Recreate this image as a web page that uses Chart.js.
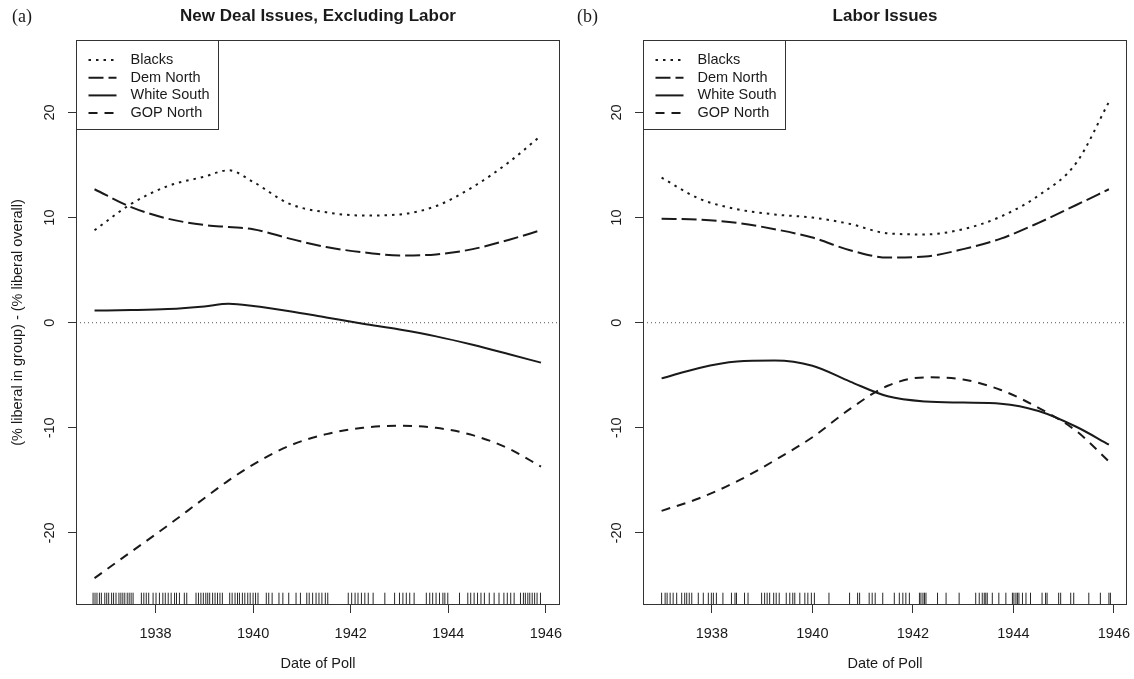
<!DOCTYPE html>
<html>
<head>
<meta charset="utf-8">
<script src="https://cdn.jsdelivr.net/npm/chart.js@4.4.1/dist/chart.umd.min.js"></script>
<style>
    html, body { margin: 0; padding: 0; background: #fff; }
    #wrap { position: relative; width: 1134px; height: 679px; }
    .panel { position: absolute; top: 0; width: 567px; height: 679px; }
</style>
</head>
<body>
<div id="wrap">
    <div class="panel" style="left:0"><canvas id="chartA" width="567" height="679"></canvas></div>
    <div class="panel" style="left:567px"><canvas id="chartB" width="567" height="679"></canvas></div>
</div>
<script>
const seriesNames = ["Blacks", "Dem North", "White South", "GOP North"];
const xTicks = [1938, 1940, 1942, 1944, 1946];
const yTicks = [-20, -10, 0, 10, 20];

// (a) New Deal issues, excluding labor
const datesA = [1936.75, 1937.5, 1938.25, 1939.0, 1939.5, 1940.0, 1940.75, 1941.5, 1942.25, 1943.0, 1943.75, 1944.5, 1945.25, 1945.9];
const blacksA = [8.8, 11.3, 13.0, 13.9, 14.5, 13.4, 11.3, 10.5, 10.2, 10.3, 11.1, 12.9, 15.3, 17.8];
const demNorthA = [12.7, 11.0, 9.9, 9.3, 9.1, 8.9, 8.0, 7.2, 6.7, 6.4, 6.5, 7.0, 7.9, 8.8];
const whiteSouthA = [1.15, 1.2, 1.3, 1.55, 1.8, 1.6, 1.1, 0.5, -0.1, -0.65, -1.3, -2.1, -3.0, -3.8];
const gopNorthA = [-24.3, -21.8, -19.3, -16.7, -15.0, -13.5, -11.7, -10.6, -10.0, -9.8, -10.0, -10.7, -12.0, -13.7];
const pollsA = [
    1936.72, 1936.76, 1936.80, 1936.85, 1936.89, 1936.96, 1937.00, 1937.04, 1937.10, 1937.14,
    1937.19, 1937.25, 1937.29, 1937.33, 1937.37, 1937.42, 1937.46, 1937.50, 1937.54,
    1937.71, 1937.76, 1937.81, 1937.86, 1937.95, 1938.01, 1938.08, 1938.15, 1938.20, 1938.26,
    1938.32, 1938.39, 1938.43, 1938.49, 1938.59, 1938.64,
    1938.83, 1938.88, 1938.93, 1938.98, 1939.03, 1939.07, 1939.11, 1939.17, 1939.22, 1939.27, 1939.32, 1939.37,
    1939.52, 1939.57, 1939.63, 1939.68, 1939.72, 1939.78, 1939.83, 1939.89, 1939.94, 1940.00, 1940.05, 1940.10,
    1940.27, 1940.32, 1940.39, 1940.53, 1940.61, 1940.73, 1940.88, 1940.97,
    1941.10, 1941.15, 1941.22, 1941.29, 1941.35, 1941.41, 1941.48, 1941.53,
    1941.95, 1942.02, 1942.09, 1942.15, 1942.22, 1942.29, 1942.36, 1942.46, 1942.70, 1942.90,
    1943.00, 1943.07, 1943.14, 1943.21, 1943.30,
    1943.55, 1943.62, 1943.68, 1943.75, 1943.82, 1943.89, 1943.93, 1943.99, 1944.23,
    1944.40, 1944.46, 1944.53, 1944.60, 1944.67, 1944.74, 1944.84, 1944.94,
    1945.04, 1945.14, 1945.21, 1945.28, 1945.35,
    1945.48, 1945.54, 1945.58, 1945.63, 1945.67, 1945.72, 1945.77, 1945.82, 1945.89
];

// (b) Labor issues
const datesB = [1937.0, 1937.75, 1938.5, 1939.25, 1940.0, 1940.75, 1941.5, 1942.25, 1943.0, 1943.75, 1944.5, 1945.25, 1945.9];
const blacksB = [13.8, 11.8, 10.8, 10.3, 10.0, 9.4, 8.5, 8.4, 8.9, 10.1, 12.1, 15.2, 21.0];
const demNorthB = [9.9, 9.8, 9.5, 8.9, 8.1, 6.9, 6.2, 6.3, 7.0, 8.0, 9.5, 11.2, 12.7];
const whiteSouthB = [-5.3, -4.3, -3.7, -3.6, -4.1, -5.6, -7.0, -7.5, -7.6, -7.7, -8.4, -9.9, -11.6];
const gopNorthB = [-17.9, -16.7, -15.1, -13.1, -10.9, -8.2, -6.0, -5.2, -5.4, -6.4, -8.1, -10.3, -13.2];
const pollsB = [
    1937.00, 1937.07, 1937.11, 1937.17, 1937.23, 1937.30, 1937.40, 1937.46, 1937.50, 1937.55, 1937.60,
    1937.73, 1937.83, 1937.93, 1937.99, 1938.03, 1938.09, 1938.22, 1938.39, 1938.46, 1938.49,
    1938.65, 1938.72, 1938.99, 1939.05, 1939.10, 1939.15, 1939.23, 1939.28, 1939.34,
    1939.48, 1939.55, 1939.61, 1939.65, 1939.75, 1939.85, 1939.91, 1939.98, 1940.04,
    1940.33, 1940.74, 1940.90, 1940.94, 1941.13, 1941.19, 1941.25, 1941.40,
    1941.63, 1941.73, 1941.80, 1941.86, 1941.93, 1942.13, 1942.16, 1942.20, 1942.23, 1942.26,
    1942.49, 1942.66, 1942.92, 1943.25, 1943.32, 1943.38, 1943.42, 1943.45, 1943.48, 1943.58,
    1943.71, 1943.85, 1943.98, 1944.01, 1944.05, 1944.08, 1944.11, 1944.18, 1944.25, 1944.34,
    1944.57, 1944.64, 1944.67, 1944.90, 1944.94, 1945.14, 1945.20, 1945.50, 1945.73, 1945.90, 1945.93
];

const FONT = "'Liberation Sans', Arial, sans-serif";
const INK = "#1a1a1a";
const LINE = "#333";
const dashes = [[2.5, 5], [15, 5], [], [9, 7]];

const panelDecor = {
    id: "panelDecor",
    afterDraw(chart, args, opts) {
        const ctx = chart.ctx;
        const a = chart.chartArea;
        ctx.save();

        // frame round the plot region
        ctx.strokeStyle = LINE;
        ctx.lineWidth = 1;
        ctx.setLineDash([]);
        ctx.strokeRect(Math.round(a.left) + 0.5, Math.round(a.top) + 0.5,
            Math.round(a.right - a.left) - 1, Math.round(a.bottom - a.top) - 1);

        // title and panel tag
        ctx.fillStyle = INK;
        ctx.textBaseline = "middle";
        ctx.textAlign = "center";
        ctx.font = "bold 17px " + FONT;
        ctx.fillText(opts.title, (a.left + a.right) / 2, 16);
        ctx.textAlign = "left";
        ctx.font = "18px 'Liberation Serif', 'Times New Roman', serif";
        ctx.fillText(opts.tag, opts.tagX, 17);

        // legend, top left of the plot region
        const lx = Math.round(a.left) + 0.5;
        const ly = Math.round(a.top) + 0.5;
        ctx.fillStyle = "#fff";
        ctx.fillRect(lx, ly, 142, 89);
        ctx.strokeStyle = LINE;
        ctx.strokeRect(lx, ly, 142, 89);
        ctx.font = "14.5px " + FONT;
        ctx.textAlign = "left";
        chart.data.datasets.filter(ds => ds.inLegend).forEach(function (ds, i) {
            const y = ly + 19.5 + i * 17.7;
            ctx.strokeStyle = INK;
            ctx.lineWidth = 2;
            ctx.setLineDash(ds.borderDash);
            ctx.beginPath();
            ctx.moveTo(lx + 12, y);
            ctx.lineTo(lx + 40, y);
            ctx.stroke();
            ctx.setLineDash([]);
            ctx.fillStyle = INK;
            ctx.fillText(ds.label, lx + 54, y);
        });
        ctx.restore();
    }
};

function groupSet(label, dates, values, dash) {
    return {
        type: "line",
        label: label,
        data: dates.map((d, i) => ({ x: d, y: values[i] })),
        borderColor: INK,
        borderWidth: 2,
        borderDash: dash,
        borderCapStyle: "butt",
        pointRadius: 0,
        cubicInterpolationMode: "monotone",
        fill: false,
        inLegend: true
    };
}

function makePanel(canvasId, cfg) {
    const datasets = cfg.series.map((vals, i) => groupSet(seriesNames[i], cfg.dates, vals, dashes[i]));

    // zero reference line
    datasets.push({
        type: "line",
        data: [{ x: cfg.xMin, y: 0 }, { x: cfg.xMax, y: 0 }],
        borderColor: "#555",
        borderWidth: 1,
        borderDash: [1, 3],
        pointRadius: 0
    });

    // rug of poll dates along the bottom
    const rugY = cfg.yMin + 0.6;
    datasets.push({
        type: "scatter",
        data: cfg.polls.map(d => ({ x: d, y: rugY })),
        showLine: false,
        pointStyle: "line",
        pointRotation: 90,
        rotation: 90,
        pointRadius: 6,
        pointBorderWidth: 1,
        borderColor: "rgba(0,0,0,0.85)",
        pointBorderColor: "rgba(0,0,0,0.85)"
    });

    const gridOpts = { drawOnChartArea: false, drawTicks: true, tickLength: 8, color: LINE, lineWidth: 1 };

    return new Chart(document.getElementById(canvasId), {
        type: "line",
        data: { datasets: datasets },
        plugins: [panelDecor],
        options: {
            responsive: false,
            animation: false,
            events: [],
            layout: { padding: { left: 0, right: 3, top: 40, bottom: 0 } },
            plugins: {
                legend: { display: false },
                tooltip: { enabled: false },
                panelDecor: { title: cfg.title, tag: cfg.tag, tagX: cfg.tagX }
            },
            scales: {
                x: {
                    type: "linear",
                    min: cfg.xMin,
                    max: cfg.xMax,
                    afterBuildTicks: function (s) { s.ticks = xTicks.map(v => ({ value: v })); },
                    afterFit: function (s) {
                        s.height = 74;
                        s.paddingLeft = 0;
                        s.paddingRight = 0;
                    },
                    grid: gridOpts,
                    border: { display: false },
                    ticks: {
                        font: { family: FONT, size: 14.5 },
                        color: INK,
                        padding: 12,
                        minRotation: 0,
                        maxRotation: 0,
                        autoSkip: false,
                        callback: v => String(v)
                    },
                    title: {
                        display: true,
                        text: "Date of Poll",
                        font: { family: FONT, size: 14.5 },
                        color: INK,
                        padding: { top: 0, bottom: 6 }
                    }
                },
                y: {
                    type: "linear",
                    min: cfg.yMin,
                    max: cfg.yMax,
                    afterBuildTicks: function (s) { s.ticks = yTicks.map(v => ({ value: v })); },
                    afterFit: function (s) {
                        s.width = 76;
                        s.paddingTop = 0;
                        s.paddingBottom = 0;
                    },
                    grid: gridOpts,
                    border: { display: false },
                    ticks: {
                        font: { family: FONT, size: 14.5 },
                        color: INK,
                        padding: 8,
                        minRotation: 90,
                        maxRotation: 90,
                        crossAlign: "center",
                        autoSkip: false,
                        callback: v => String(v)
                    },
                    title: {
                        display: cfg.yTitle !== "",
                        text: cfg.yTitle,
                        font: { family: FONT, size: 14.5 },
                        color: INK,
                        padding: { top: 9, bottom: 0 }
                    }
                }
            }
        }
    });
}

makePanel("chartA", {
    title: "New Deal Issues, Excluding Labor",
    tag: "(a)",
    tagX: 12,
    yTitle: "(% liberal in group) - (% liberal overall)",
    xMin: 1936.37, xMax: 1946.29,
    yMin: -26.86, yMax: 26.9,
    dates: datesA,
    series: [blacksA, demNorthA, whiteSouthA, gopNorthA],
    polls: pollsA
});

makePanel("chartB", {
    title: "Labor Issues",
    tag: "(b)",
    tagX: 10,
    yTitle: "",
    xMin: 1936.63, xMax: 1946.26,
    yMin: -26.86, yMax: 26.9,
    dates: datesB,
    series: [blacksB, demNorthB, whiteSouthB, gopNorthB],
    polls: pollsB
});
</script>
</body>
</html>
